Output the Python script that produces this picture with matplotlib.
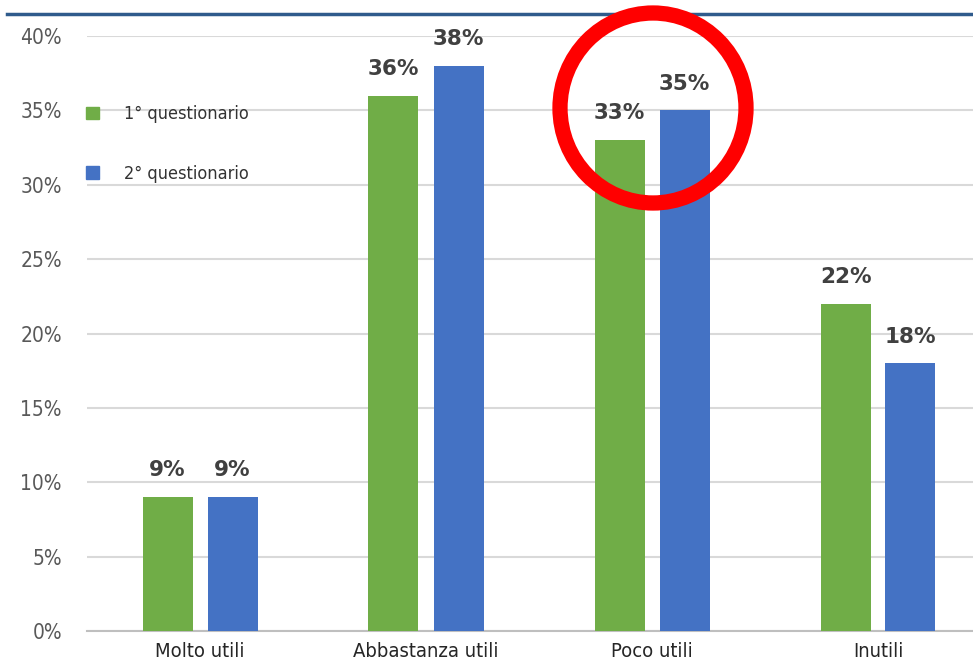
import matplotlib
matplotlib.use("Agg")
import matplotlib.pyplot as plt
import numpy as np
from matplotlib.patches import Ellipse
from matplotlib.lines import Line2D
from matplotlib.patches import Patch

categories = ["Molto utili", "Abbastanza utili", "Poco utili", "Inutili"]
series_names = ["1° questionario", "2° questionario"]
q1 = [9, 36, 33, 22]
q2 = [9, 38, 35, 18]
yticks = [0, 5, 10, 15, 20, 25, 30, 35, 40]

green = "#70ad47"
blue = "#4472c4"

W, H = 973, 667
fig = plt.figure(figsize=(W / 100, H / 100), dpi=100)
ax_left, ax_right = 87, 973
ax_top, ax_bot = 36, 631
ax = fig.add_axes([ax_left / W, (H - ax_bot) / H, (ax_right - ax_left) / W, (ax_bot - ax_top) / H])

cat_px = 226.0
x = np.arange(len(categories))
bw = 50 / cat_px
off = 32.5 / cat_px
b1 = ax.bar(x - off, q1, bw, color=green, zorder=3)
b2 = ax.bar(x + off, q2, bw, color=blue, zorder=3)

for bars, vals in ((b1, q1), (b2, q2)):
    for r, v in zip(bars, vals):
        ax.annotate(f"{v}%", (r.get_x() + r.get_width() / 2, v), xytext=(0, 12),
                    textcoords="offset points", ha="center", va="bottom",
                    fontsize=15.5, fontweight="bold", color="#404040",
                    family=["DejaVu Sans"], fontstretch="normal")

ax.set_xlim(-0.5, -0.5 + (ax_right - ax_left) / cat_px)
ax.set_ylim(0, 40)
ax.set_yticks(yticks)
ax.set_yticklabels([f"{t}%" for t in yticks])
ax.set_xticks(x)
ax.set_xticklabels(categories)
ax.tick_params(axis="y", length=0, pad=18, labelsize=15, labelcolor="#595959")
ax.tick_params(axis="x", length=0, pad=8, labelsize=14.5, labelcolor="#262626")
for lab in ax.get_yticklabels():
    lab.set_family(["DejaVu Sans"])
    lab.set_fontstretch("condensed")
    lab.set_fontweight("light")
for lab in ax.get_xticklabels():
    lab.set_family(["DejaVu Sans"])
    lab.set_fontstretch("condensed")
ax.grid(axis="y", color="#d9d9d9", linewidth=1.5, zorder=0)
for s in ["top", "right", "left"]:
    ax.spines[s].set_visible(False)
ax.spines["bottom"].set_color("#bfbfbf")
ax.spines["bottom"].set_linewidth(1.5)

handles = [Patch(color=green), Patch(color=blue)]
leg = fig.legend(handles, series_names, loc="upper left",
                 bbox_to_anchor=(70 / W, 1 - 89 / H), frameon=False,
                 handlelength=0.7, handleheight=0.7, handletextpad=1.4,
                 labelspacing=2.3,
                 prop={"family": ["DejaVu Sans"], "stretch": "condensed", "size": 13})
for t in leg.get_texts():
    t.set_color("#333333")

# top decorative line
fig.add_artist(Line2D([7 / W, 1], [1 - 14 / H, 1 - 14 / H], color="#2f5b8c", linewidth=2.5))

# red circle highlight
circ = Ellipse((653 / W, 1 - 108 / H), 186 / W, 190 / H, transform=fig.transFigure,
               fill=False, edgecolor="#ff0000", linewidth=11, zorder=10)
fig.add_artist(circ)

fig.savefig("out.png", dpi=100)
